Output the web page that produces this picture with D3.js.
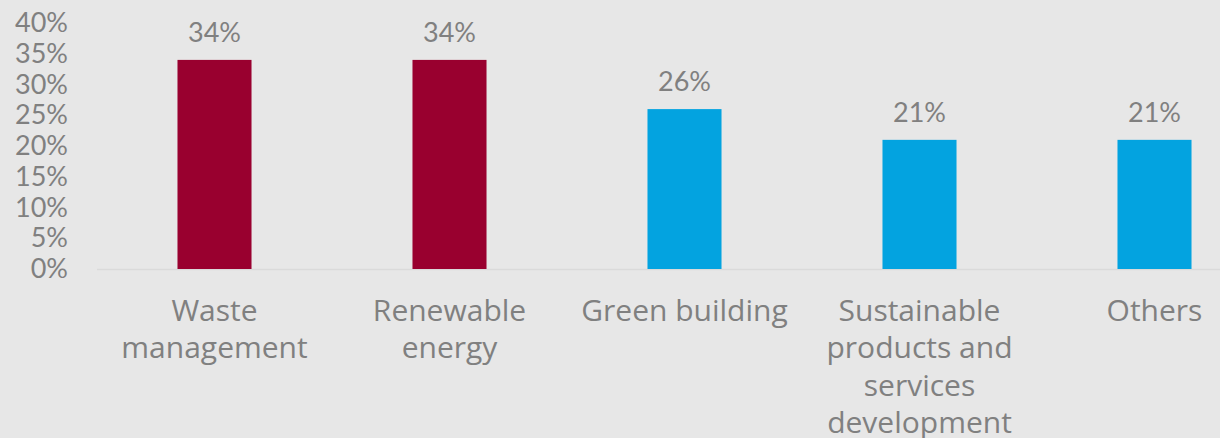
<!DOCTYPE html>
<html>
<head>
<meta charset="utf-8">
<script src="https://cdn.jsdelivr.net/npm/d3@7"></script>
<style>
  html, body { margin: 0; padding: 0; background: #e7e7e7; }
  svg { display: block; }
  text { font-family: Lato, "Open Sans", sans-serif; fill: #808080; }
  .xAxis text { font-family: "Open Sans", Lato, sans-serif; }
</style>
</head>
<body>
<svg id="chart"></svg>
<script>
// data
const categories = ["Waste management", "Renewable energy", "Green building",
  "Sustainable products and services development", "Others"];
const labelLines = [["Waste", "management"], ["Renewable", "energy"], ["Green building"],
  ["Sustainable", "products and", "services", "development"], ["Others"]];
const values = [34, 34, 26, 21, 21];
const highlight = [true, true, false, false, false];
const yTicks = [0, 5, 10, 15, 20, 25, 30, 35, 40];

const width = 1220, height = 438;

const svg = d3.select("#chart")
  .attr("width", width)
  .attr("height", height);

svg.append("rect")
  .attr("width", width)
  .attr("height", height)
  .attr("fill", "#e7e7e7");

// scales
const x = d3.scaleBand()
  .domain(categories)
  .range([97, 1272])
  .paddingInner(0.685)
  .paddingOuter(0.3425);

const y = d3.scaleLinear()
  .domain([0, 40])
  .range([269, 23]);

// Y axis
svg.append("g")
  .attr("class", "yAxis")
  .attr("transform", "translate(68,0)")
  .call(d3.axisLeft(y).tickValues(yTicks).tickFormat(d => d + "%").tickSize(0).tickPadding(0))
  .call(g => g.select(".domain").remove())
  .selectAll("text")
  .style("font-size", "27px")
  .attr("fill", "#808080");

// baseline
svg.append("line")
  .attr("x1", 97)
  .attr("x2", width)
  .attr("y1", y(0) + 0.5)
  .attr("y2", y(0) + 0.5)
  .attr("stroke", "#dadada")
  .attr("stroke-width", 1.5);

// bars
svg.append("g")
  .selectAll("rect")
  .data(categories)
  .join("rect")
  .attr("x", d => x(d))
  .attr("y", (d, i) => y(values[i]))
  .attr("width", x.bandwidth())
  .attr("height", (d, i) => y(0) - y(values[i]))
  .attr("fill", (d, i) => highlight[i] ? "#99002f" : "#03a3e0");

// value labels
svg.append("g")
  .selectAll("text")
  .data(categories)
  .join("text")
  .attr("x", d => x(d) + x.bandwidth() / 2)
  .attr("y", (d, i) => y(values[i]) - 18)
  .attr("text-anchor", "middle")
  .style("font-size", "27px")
  .text((d, i) => values[i] + "%");

// X axis labels
const xg = svg.append("g")
  .attr("class", "xAxis")
  .attr("transform", `translate(0,${y(0)})`)
  .call(d3.axisBottom(x).tickSize(0).tickFormat(""))
  .call(g => g.select(".domain").remove());

xg.selectAll(".tick text")
  .attr("y", 0)
  .attr("dy", null)
  .style("font-size", "30px")
  .attr("fill", "#808080")
  .each(function (d, i) {
    const t = d3.select(this);
    labelLines[i].forEach((line, j) => {
      t.append("tspan")
        .attr("x", 0)
        .attr("y", 52 + j * 37.3)
        .text(line);
    });
  });
</script>
</body>
</html>
